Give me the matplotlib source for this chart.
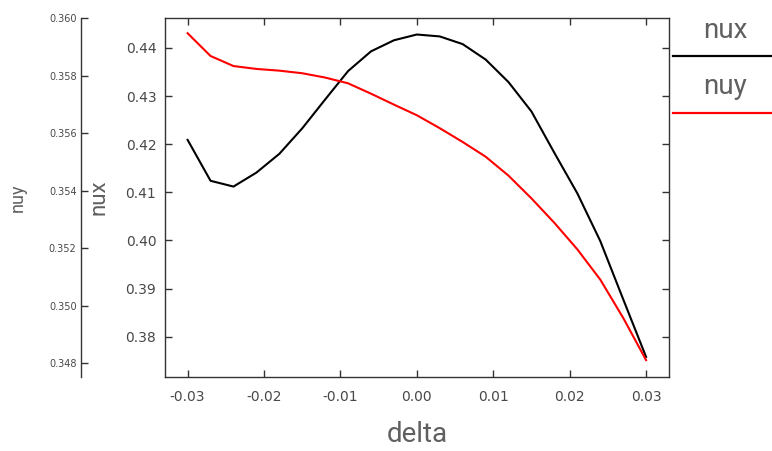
import matplotlib
matplotlib.use("Agg")
import matplotlib.pyplot as plt
from matplotlib.lines import Line2D

# ---- data ----
delta = [-0.030, -0.027, -0.024, -0.021, -0.018, -0.015, -0.012, -0.009,
         -0.006, -0.003, 0.000, 0.003, 0.006, 0.009, 0.012, 0.015, 0.018,
         0.021, 0.024, 0.027, 0.030]
nux = [0.4209, 0.4124, 0.4112, 0.4141, 0.4180, 0.4233, 0.4293, 0.4352,
       0.4393, 0.4416, 0.4428, 0.4424, 0.4408, 0.4376, 0.4329, 0.4268,
       0.4182, 0.4098, 0.3999, 0.3878, 0.3758]
nuy = [0.35947, 0.35868, 0.35833, 0.35823, 0.35817, 0.35808, 0.35793,
       0.35773, 0.35737, 0.35699, 0.35662, 0.35617, 0.35569, 0.35518,
       0.35452, 0.35373, 0.35288, 0.35196, 0.35091, 0.34958, 0.34811]
xticks = [-0.03, -0.02, -0.01, 0.00, 0.01, 0.02, 0.03]
nux_ticks = [0.38, 0.39, 0.40, 0.41, 0.42, 0.43, 0.44]
nuy_ticks = [0.348, 0.350, 0.352, 0.354, 0.356, 0.358, 0.360]
series = ["nux", "nuy"]
colors = ["black", "red"]

TICKFONT = "DejaVu Sans"
LABFONT = "Roboto"
TXT = "#484848"
LABTXT = "#606060"
SPINE = "#333333"
plt.rcParams.update({"font.family": TICKFONT})

W, H = 772, 451
fig = plt.figure(figsize=(W / 100, H / 100), dpi=100)
L, R, T, B = 164.7, 669.0, 18.0, 376.5
rect = [L / W, 1 - B / H, (R - L) / W, (B - T) / H]

ax = fig.add_axes(rect)
ax2 = fig.add_axes(rect, sharex=ax)
ax2.patch.set_visible(False)

ax.plot(delta, nux, color=colors[0], lw=1.5, zorder=3)
ax2.plot(delta, nuy, color=colors[1], lw=1.5, zorder=3)

ax.set_xlim(-0.033, 0.033)
ax.set_ylim(0.37173, 0.44623)
ax2.set_ylim(0.34754, 0.360)

ax.set_xticks(xticks)
ax.set_xticklabels([f"{v:.2f}" for v in xticks])
ax.set_yticks(nux_ticks)
ax.set_yticklabels([f"{v:.2f}" for v in nux_ticks])
ax2.set_yticks(nuy_ticks)
ax2.set_yticklabels([f"{v:.3f}" for v in nuy_ticks])

for s in ax.spines.values():
    s.set_color(SPINE)
    s.set_linewidth(1.0)
ax.tick_params(axis="both", direction="in", length=5, width=1.0, color=SPINE,
               top=True, right=True, labelcolor=TXT, labelsize=10)
ax.tick_params(axis="x", pad=10)
ax.tick_params(axis="y", pad=6)

for k in ["top", "right", "bottom"]:
    ax2.spines[k].set_visible(False)
ax2.spines["left"].set_position(("outward", 84 * 72 / 100))
ax2.spines["left"].set_color(SPINE)
ax2.spines["left"].set_linewidth(1.0)
ax2.tick_params(axis="y", direction="in", length=5, width=1.0, color=SPINE,
                labelcolor=TXT, labelsize=7, pad=3)
ax2.tick_params(axis="x", bottom=False, labelbottom=False)

lab = dict(family=LABFONT, fontweight="normal", color=LABTXT)
ax.set_xlabel("delta", fontsize=20, **lab)
ax.xaxis.set_label_coords(0.5, (B - 421) / (B - T))
ax.set_ylabel("nux", fontsize=16, **lab)
ax.yaxis.set_label_coords((109 - L) / (R - L), 0.5)
ax2.set_ylabel("nuy", fontsize=13, **lab)
ax2.yaxis.set_label_coords((27 - L) / (R - L), 0.5)

# legend: label above a line segment, outside the right edge
for i, (name, c) in enumerate(zip(series, colors)):
    ty = 30 + i * 57
    ly = 56 + i * 57
    fig.text(725 / W, 1 - ty / H, name, ha="center", va="center",
             fontsize=20, **lab)
    fig.add_artist(Line2D([672.7 / W, 1.0], [1 - ly / H, 1 - ly / H],
                          color=c, lw=1.6, transform=fig.transFigure))

fig.savefig("out.png", dpi=100, facecolor="white")
